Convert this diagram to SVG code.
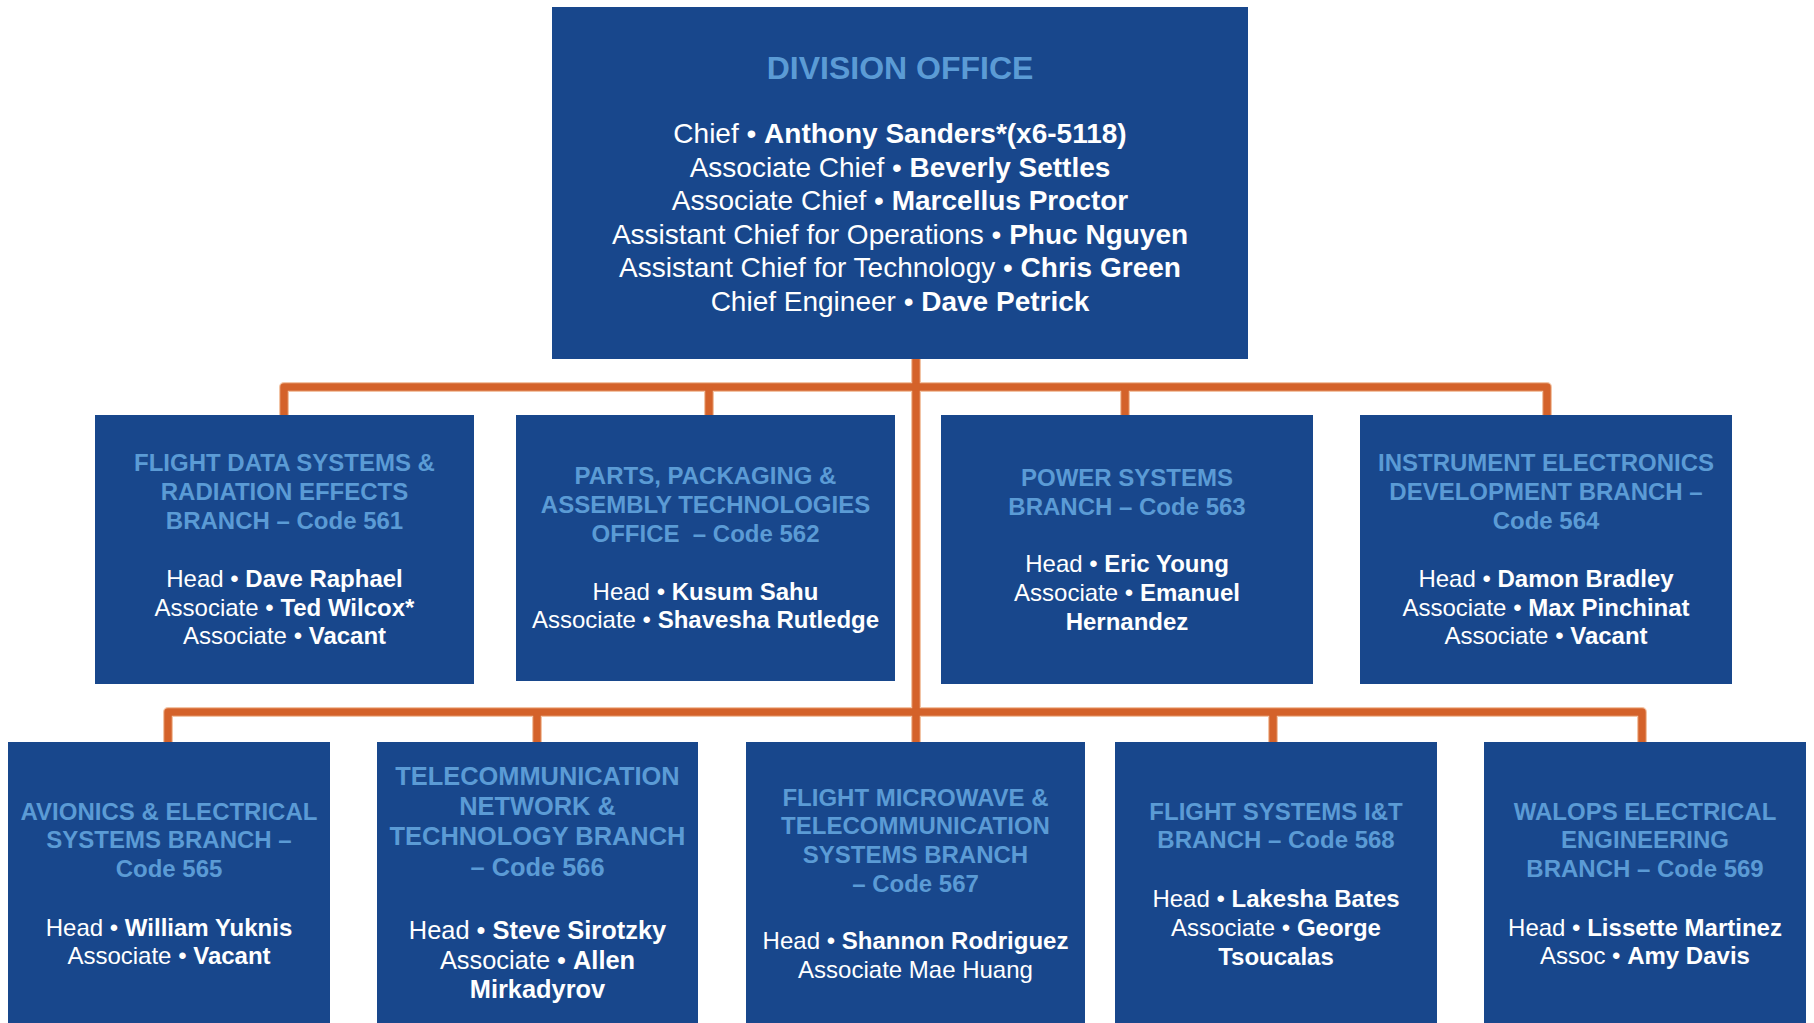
<svg xmlns="http://www.w3.org/2000/svg" width="1814" height="1023" viewBox="0 0 1814 1023">
<style>
.box{fill:#18478C}
.t{font-family:"Liberation Sans",Arial,sans-serif;text-anchor:middle}
.ti{fill:#5B9BD5;font-weight:bold;font-size:24px}
.bd{fill:#FFFFFF;font-size:24px}
.b{font-weight:bold}
.lg{font-size:25.4px}
.halo{fill:none;stroke:#F2C4A6;stroke-width:10;stroke-linejoin:round}
.ln{fill:none;stroke:#D4622A;stroke-width:7.5;stroke-linejoin:round}
</style>
<rect width="1814" height="1023" fill="#FFFFFF"/>
<g id="connectors">
<g class="halo">
<path d="M916,359 V742"/>
<path d="M284,415 V387 H1547 V415"/>
<path d="M709,387 V415 M1125,387 V415"/>
<path d="M168,742 V712 H1642 V742"/>
<path d="M537,712 V742 M1273,712 V742"/>
</g>
<g class="ln">
<path d="M916,359 V742"/>
<path d="M284,415 V387 H1547 V415"/>
<path d="M709,387 V415 M1125,387 V415"/>
<path d="M168,742 V712 H1642 V742"/>
<path d="M537,712 V742 M1273,712 V742"/>
</g>
</g>
<g id="division-office">
<rect class="box" x="552" y="7" width="696" height="352"/>
<text class="t" x="900" y="79" fill="#5B9BD5" font-weight="bold" font-size="32">DIVISION OFFICE</text>
<g class="t" fill="#FFFFFF" font-size="28">
<text x="900" y="143">Chief • <tspan class="b">Anthony Sanders*(x6-5118)</tspan></text>
<text x="900" y="176.6">Associate Chief • <tspan class="b">Beverly Settles</tspan></text>
<text x="900" y="210.2">Associate Chief • <tspan class="b">Marcellus Proctor</tspan></text>
<text x="900" y="243.8">Assistant Chief for Operations • <tspan class="b">Phuc Nguyen</tspan></text>
<text x="900" y="277.4">Assistant Chief for Technology • <tspan class="b">Chris Green</tspan></text>
<text x="900" y="311">Chief Engineer • <tspan class="b">Dave Petrick</tspan></text>
</g>
</g>
<g id="code-561">
<rect class="box" x="95" y="415" width="379" height="269"/>
<text class="t ti" x="284.5" y="471">FLIGHT DATA SYSTEMS &amp;</text>
<text class="t ti" x="284.5" y="500">RADIATION EFFECTS</text>
<text class="t ti" x="284.5" y="529">BRANCH – Code 561</text>
<text class="t bd" x="284.5" y="587">Head • <tspan class="b">Dave Raphael</tspan></text>
<text class="t bd" x="284.5" y="616">Associate • <tspan class="b">Ted Wilcox*</tspan></text>
<text class="t bd" x="284.5" y="644">Associate • <tspan class="b">Vacant</tspan></text>
</g>
<g id="code-562">
<rect class="box" x="516" y="415" width="379" height="266"/>
<text class="t ti" x="705.5" y="484">PARTS, PACKAGING &amp;</text>
<text class="t ti" x="705.5" y="513">ASSEMBLY TECHNOLOGIES</text>
<text class="t ti" x="705.5" y="542" xml:space="preserve">OFFICE  – Code 562</text>
<text class="t bd" x="705.5" y="600">Head • <tspan class="b">Kusum Sahu</tspan></text>
<text class="t bd" x="705.5" y="628">Associate • <tspan class="b">Shavesha Rutledge</tspan></text>
</g>
<g id="code-563">
<rect class="box" x="941" y="415" width="372" height="269"/>
<text class="t ti" x="1127" y="486">POWER SYSTEMS</text>
<text class="t ti" x="1127" y="515">BRANCH – Code 563</text>
<text class="t bd" x="1127" y="572">Head • <tspan class="b">Eric Young</tspan></text>
<text class="t bd" x="1127" y="601">Associate • <tspan class="b">Emanuel</tspan></text>
<text class="t bd b" x="1127" y="630">Hernandez</text>
</g>
<g id="code-564">
<rect class="box" x="1360" y="415" width="372" height="269"/>
<text class="t ti" x="1546" y="471">INSTRUMENT ELECTRONICS</text>
<text class="t ti" x="1546" y="500">DEVELOPMENT BRANCH –</text>
<text class="t ti" x="1546" y="529">Code 564</text>
<text class="t bd" x="1546" y="587">Head • <tspan class="b">Damon Bradley</tspan></text>
<text class="t bd" x="1546" y="616">Associate • <tspan class="b">Max Pinchinat</tspan></text>
<text class="t bd" x="1546" y="644">Associate • <tspan class="b">Vacant</tspan></text>
</g>
<g id="code-565">
<rect class="box" x="8" y="742" width="322" height="290"/>
<text class="t ti" x="169" y="820">AVIONICS &amp; ELECTRICAL</text>
<text class="t ti" x="169" y="848">SYSTEMS BRANCH –</text>
<text class="t ti" x="169" y="877">Code 565</text>
<text class="t bd" x="169" y="936">Head • <tspan class="b">William Yuknis</tspan></text>
<text class="t bd" x="169" y="964">Associate • <tspan class="b">Vacant</tspan></text>
</g>
<g id="code-566">
<rect class="box" x="377" y="742" width="321" height="290"/>
<text class="t ti lg" x="537.5" y="785">TELECOMMUNICATION</text>
<text class="t ti lg" x="537.5" y="815">NETWORK &amp;</text>
<text class="t ti lg" x="537.5" y="845">TECHNOLOGY BRANCH</text>
<text class="t ti lg" x="537.5" y="876">– Code 566</text>
<text class="t bd lg" x="537.5" y="939">Head • <tspan class="b">Steve Sirotzky</tspan></text>
<text class="t bd lg" x="537.5" y="969">Associate • <tspan class="b">Allen</tspan></text>
<text class="t bd b lg" x="537.5" y="998">Mirkadyrov</text>
</g>
<g id="code-567">
<rect class="box" x="746" y="742" width="339" height="290"/>
<text class="t ti" x="915.5" y="806">FLIGHT MICROWAVE &amp;</text>
<text class="t ti" x="915.5" y="834">TELECOMMUNICATION</text>
<text class="t ti" x="915.5" y="863">SYSTEMS BRANCH</text>
<text class="t ti" x="915.5" y="892">– Code 567</text>
<text class="t bd" x="915.5" y="949">Head • <tspan class="b">Shannon Rodriguez</tspan></text>
<text class="t bd" x="915.5" y="978">Associate Mae Huang</text>
</g>
<g id="code-568">
<rect class="box" x="1115" y="742" width="322" height="290"/>
<text class="t ti" x="1276" y="820">FLIGHT SYSTEMS I&amp;T</text>
<text class="t ti" x="1276" y="848">BRANCH – Code 568</text>
<text class="t bd" x="1276" y="907">Head • <tspan class="b">Lakesha Bates</tspan></text>
<text class="t bd" x="1276" y="936">Associate • <tspan class="b">George</tspan></text>
<text class="t bd b" x="1276" y="965">Tsoucalas</text>
</g>
<g id="code-569">
<rect class="box" x="1484" y="742" width="322" height="290"/>
<text class="t ti" x="1645" y="820">WALOPS ELECTRICAL</text>
<text class="t ti" x="1645" y="848">ENGINEERING</text>
<text class="t ti" x="1645" y="877">BRANCH – Code 569</text>
<text class="t bd" x="1645" y="936">Head • <tspan class="b">Lissette Martinez</tspan></text>
<text class="t bd" x="1645" y="964">Assoc • <tspan class="b">Amy Davis</tspan></text>
</g>
</svg>
